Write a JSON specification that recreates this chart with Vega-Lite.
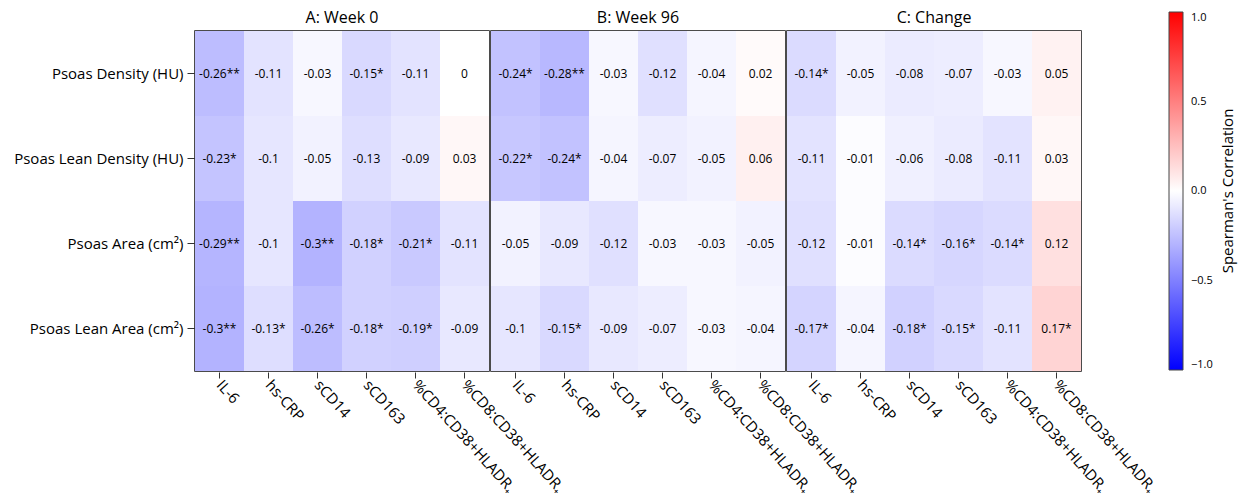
{
  "$schema": "https://vega.github.io/schema/vega-lite/v6.json",
  "background": "white",
  "padding": {"left": 13, "top": 10, "right": 5, "bottom": 5},
  "data": {"values": [
    {"p":"A: Week 0","o":"Psoas Density (HU)","m":"IL-6","r":-0.26,"t":"-0.26**"},
    {"p":"A: Week 0","o":"Psoas Density (HU)","m":"hs-CRP","r":-0.11,"t":"-0.11"},
    {"p":"A: Week 0","o":"Psoas Density (HU)","m":"sCD14","r":-0.03,"t":"-0.03"},
    {"p":"A: Week 0","o":"Psoas Density (HU)","m":"sCD163","r":-0.15,"t":"-0.15*"},
    {"p":"A: Week 0","o":"Psoas Density (HU)","m":"%CD4:CD38+HLADR₊","r":-0.11,"t":"-0.11"},
    {"p":"A: Week 0","o":"Psoas Density (HU)","m":"%CD8:CD38+HLADR₊","r":0,"t":"0"},
    {"p":"A: Week 0","o":"Psoas Lean Density (HU)","m":"IL-6","r":-0.23,"t":"-0.23*"},
    {"p":"A: Week 0","o":"Psoas Lean Density (HU)","m":"hs-CRP","r":-0.1,"t":"-0.1"},
    {"p":"A: Week 0","o":"Psoas Lean Density (HU)","m":"sCD14","r":-0.05,"t":"-0.05"},
    {"p":"A: Week 0","o":"Psoas Lean Density (HU)","m":"sCD163","r":-0.13,"t":"-0.13"},
    {"p":"A: Week 0","o":"Psoas Lean Density (HU)","m":"%CD4:CD38+HLADR₊","r":-0.09,"t":"-0.09"},
    {"p":"A: Week 0","o":"Psoas Lean Density (HU)","m":"%CD8:CD38+HLADR₊","r":0.03,"t":"0.03"},
    {"p":"A: Week 0","o":"Psoas Area (cm²)","m":"IL-6","r":-0.29,"t":"-0.29**"},
    {"p":"A: Week 0","o":"Psoas Area (cm²)","m":"hs-CRP","r":-0.1,"t":"-0.1"},
    {"p":"A: Week 0","o":"Psoas Area (cm²)","m":"sCD14","r":-0.3,"t":"-0.3**"},
    {"p":"A: Week 0","o":"Psoas Area (cm²)","m":"sCD163","r":-0.18,"t":"-0.18*"},
    {"p":"A: Week 0","o":"Psoas Area (cm²)","m":"%CD4:CD38+HLADR₊","r":-0.21,"t":"-0.21*"},
    {"p":"A: Week 0","o":"Psoas Area (cm²)","m":"%CD8:CD38+HLADR₊","r":-0.11,"t":"-0.11"},
    {"p":"A: Week 0","o":"Psoas Lean Area (cm²)","m":"IL-6","r":-0.3,"t":"-0.3**"},
    {"p":"A: Week 0","o":"Psoas Lean Area (cm²)","m":"hs-CRP","r":-0.13,"t":"-0.13*"},
    {"p":"A: Week 0","o":"Psoas Lean Area (cm²)","m":"sCD14","r":-0.26,"t":"-0.26*"},
    {"p":"A: Week 0","o":"Psoas Lean Area (cm²)","m":"sCD163","r":-0.18,"t":"-0.18*"},
    {"p":"A: Week 0","o":"Psoas Lean Area (cm²)","m":"%CD4:CD38+HLADR₊","r":-0.19,"t":"-0.19*"},
    {"p":"A: Week 0","o":"Psoas Lean Area (cm²)","m":"%CD8:CD38+HLADR₊","r":-0.09,"t":"-0.09"},
    {"p":"B: Week 96","o":"Psoas Density (HU)","m":"IL-6","r":-0.24,"t":"-0.24*"},
    {"p":"B: Week 96","o":"Psoas Density (HU)","m":"hs-CRP","r":-0.28,"t":"-0.28**"},
    {"p":"B: Week 96","o":"Psoas Density (HU)","m":"sCD14","r":-0.03,"t":"-0.03"},
    {"p":"B: Week 96","o":"Psoas Density (HU)","m":"sCD163","r":-0.12,"t":"-0.12"},
    {"p":"B: Week 96","o":"Psoas Density (HU)","m":"%CD4:CD38+HLADR₊","r":-0.04,"t":"-0.04"},
    {"p":"B: Week 96","o":"Psoas Density (HU)","m":"%CD8:CD38+HLADR₊","r":0.02,"t":"0.02"},
    {"p":"B: Week 96","o":"Psoas Lean Density (HU)","m":"IL-6","r":-0.22,"t":"-0.22*"},
    {"p":"B: Week 96","o":"Psoas Lean Density (HU)","m":"hs-CRP","r":-0.24,"t":"-0.24*"},
    {"p":"B: Week 96","o":"Psoas Lean Density (HU)","m":"sCD14","r":-0.04,"t":"-0.04"},
    {"p":"B: Week 96","o":"Psoas Lean Density (HU)","m":"sCD163","r":-0.07,"t":"-0.07"},
    {"p":"B: Week 96","o":"Psoas Lean Density (HU)","m":"%CD4:CD38+HLADR₊","r":-0.05,"t":"-0.05"},
    {"p":"B: Week 96","o":"Psoas Lean Density (HU)","m":"%CD8:CD38+HLADR₊","r":0.06,"t":"0.06"},
    {"p":"B: Week 96","o":"Psoas Area (cm²)","m":"IL-6","r":-0.05,"t":"-0.05"},
    {"p":"B: Week 96","o":"Psoas Area (cm²)","m":"hs-CRP","r":-0.09,"t":"-0.09"},
    {"p":"B: Week 96","o":"Psoas Area (cm²)","m":"sCD14","r":-0.12,"t":"-0.12"},
    {"p":"B: Week 96","o":"Psoas Area (cm²)","m":"sCD163","r":-0.03,"t":"-0.03"},
    {"p":"B: Week 96","o":"Psoas Area (cm²)","m":"%CD4:CD38+HLADR₊","r":-0.03,"t":"-0.03"},
    {"p":"B: Week 96","o":"Psoas Area (cm²)","m":"%CD8:CD38+HLADR₊","r":-0.05,"t":"-0.05"},
    {"p":"B: Week 96","o":"Psoas Lean Area (cm²)","m":"IL-6","r":-0.1,"t":"-0.1"},
    {"p":"B: Week 96","o":"Psoas Lean Area (cm²)","m":"hs-CRP","r":-0.15,"t":"-0.15*"},
    {"p":"B: Week 96","o":"Psoas Lean Area (cm²)","m":"sCD14","r":-0.09,"t":"-0.09"},
    {"p":"B: Week 96","o":"Psoas Lean Area (cm²)","m":"sCD163","r":-0.07,"t":"-0.07"},
    {"p":"B: Week 96","o":"Psoas Lean Area (cm²)","m":"%CD4:CD38+HLADR₊","r":-0.03,"t":"-0.03"},
    {"p":"B: Week 96","o":"Psoas Lean Area (cm²)","m":"%CD8:CD38+HLADR₊","r":-0.04,"t":"-0.04"},
    {"p":"C: Change","o":"Psoas Density (HU)","m":"IL-6","r":-0.14,"t":"-0.14*"},
    {"p":"C: Change","o":"Psoas Density (HU)","m":"hs-CRP","r":-0.05,"t":"-0.05"},
    {"p":"C: Change","o":"Psoas Density (HU)","m":"sCD14","r":-0.08,"t":"-0.08"},
    {"p":"C: Change","o":"Psoas Density (HU)","m":"sCD163","r":-0.07,"t":"-0.07"},
    {"p":"C: Change","o":"Psoas Density (HU)","m":"%CD4:CD38+HLADR₊","r":-0.03,"t":"-0.03"},
    {"p":"C: Change","o":"Psoas Density (HU)","m":"%CD8:CD38+HLADR₊","r":0.05,"t":"0.05"},
    {"p":"C: Change","o":"Psoas Lean Density (HU)","m":"IL-6","r":-0.11,"t":"-0.11"},
    {"p":"C: Change","o":"Psoas Lean Density (HU)","m":"hs-CRP","r":-0.01,"t":"-0.01"},
    {"p":"C: Change","o":"Psoas Lean Density (HU)","m":"sCD14","r":-0.06,"t":"-0.06"},
    {"p":"C: Change","o":"Psoas Lean Density (HU)","m":"sCD163","r":-0.08,"t":"-0.08"},
    {"p":"C: Change","o":"Psoas Lean Density (HU)","m":"%CD4:CD38+HLADR₊","r":-0.11,"t":"-0.11"},
    {"p":"C: Change","o":"Psoas Lean Density (HU)","m":"%CD8:CD38+HLADR₊","r":0.03,"t":"0.03"},
    {"p":"C: Change","o":"Psoas Area (cm²)","m":"IL-6","r":-0.12,"t":"-0.12"},
    {"p":"C: Change","o":"Psoas Area (cm²)","m":"hs-CRP","r":-0.01,"t":"-0.01"},
    {"p":"C: Change","o":"Psoas Area (cm²)","m":"sCD14","r":-0.14,"t":"-0.14*"},
    {"p":"C: Change","o":"Psoas Area (cm²)","m":"sCD163","r":-0.16,"t":"-0.16*"},
    {"p":"C: Change","o":"Psoas Area (cm²)","m":"%CD4:CD38+HLADR₊","r":-0.14,"t":"-0.14*"},
    {"p":"C: Change","o":"Psoas Area (cm²)","m":"%CD8:CD38+HLADR₊","r":0.12,"t":"0.12"},
    {"p":"C: Change","o":"Psoas Lean Area (cm²)","m":"IL-6","r":-0.17,"t":"-0.17*"},
    {"p":"C: Change","o":"Psoas Lean Area (cm²)","m":"hs-CRP","r":-0.04,"t":"-0.04"},
    {"p":"C: Change","o":"Psoas Lean Area (cm²)","m":"sCD14","r":-0.18,"t":"-0.18*"},
    {"p":"C: Change","o":"Psoas Lean Area (cm²)","m":"sCD163","r":-0.15,"t":"-0.15*"},
    {"p":"C: Change","o":"Psoas Lean Area (cm²)","m":"%CD4:CD38+HLADR₊","r":-0.11,"t":"-0.11"},
    {"p":"C: Change","o":"Psoas Lean Area (cm²)","m":"%CD8:CD38+HLADR₊","r":0.17,"t":"0.17*"}
  ]},
  "facet": {
    "column": {
      "field": "p", "type": "nominal",
      "sort": ["A: Week 0", "B: Week 96", "C: Change"],
      "title": null,
      "header": {"labelFontSize": 16, "labelFont": "Open Sans", "labelColor": "black", "labelPadding": 4}
    }
  },
  "spacing": 0,
  "spec": {
    "width": 294,
    "height": 340,
    "encoding": {
      "x": {"field": "m", "type": "nominal", "sort": ["IL-6","hs-CRP","sCD14","sCD163","%CD4:CD38+HLADR₊","%CD8:CD38+HLADR₊"], "title": null,
        "scale": {"paddingInner": 0, "paddingOuter": 0},
        "axis": {"labelAngle": 48, "labelFontSize": 15, "labelFont": "Open Sans", "labelColor": "black", "tickSize": 6, "tickColor": "#333", "domain": false, "labelPadding": 4}},
      "y": {"field": "o", "type": "nominal", "sort": ["Psoas Density (HU)","Psoas Lean Density (HU)","Psoas Area (cm²)","Psoas Lean Area (cm²)"], "title": null,
        "scale": {"paddingInner": 0, "paddingOuter": 0},
        "axis": {"labelFontSize": 15, "labelFont": "Open Sans", "labelColor": "black", "tickSize": 7, "tickColor": "#333", "domain": false, "labelPadding": 4}}
    },
    "layer": [
      {"mark": {"type": "rect"},
       "encoding": {
         "color": {"field": "r", "type": "quantitative",
           "scale": {"domain": [-1, 0, 1], "range": ["#0000ff", "#ffffff", "#ff0000"], "interpolate": "rgb"},
           "legend": {"title": "Spearman's Correlation", "orient": "none", "legendX": 974, "legendY": -19, "titleOrient": "right", "titleFontSize": 15, "titleFont": "Open Sans", "titleFontWeight": "normal", "titleColor": "black", "titleAnchor": "middle", "titlePadding": 8,
             "encode": {"title": {"update": {"angle": {"value": -90}, "baseline": {"value": "top"}}}},
             "values": [-1, -0.5, 0, 0.5, 1], "format": ".1f", "labelFontSize": 11, "labelFont": "Open Sans", "labelColor": "black", "labelOffset": 8,
             "gradientLength": 358, "gradientThickness": 14, "gradientStrokeColor": "#444", "gradientStrokeWidth": 1, "direction": "vertical"}}}},
      {"mark": {"type": "text", "font": "Open Sans", "fontSize": 12, "color": "black"},
       "encoding": {"text": {"field": "t", "type": "nominal"}}}
    ]
  },
  "config": {
    "view": {"stroke": "#111", "strokeWidth": 1.5}
  }
}
